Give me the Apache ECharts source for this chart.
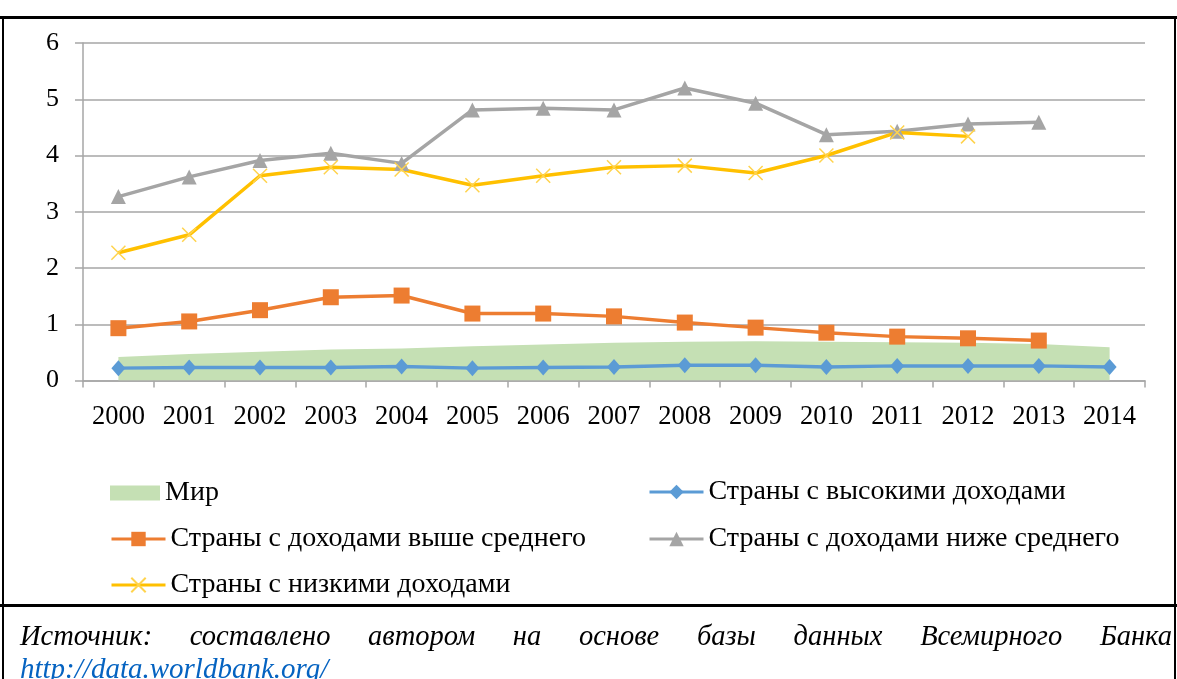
<!DOCTYPE html>
<html>
<head>
<meta charset="utf-8">
<script src="https://cdn.jsdelivr.net/npm/echarts@6/dist/echarts.min.js"></script>
<style>
    body { margin: 0; background: #fff; }
    #wrap { position: relative; width: 1177px; height: 679px; overflow: hidden; }
    #main { position: absolute; left: 0; top: 0; width: 1177px; height: 679px; }
    .frame { position: absolute; background: #000; }
    .src { position: absolute; left: 20px; width: 1152px; font-family: "Liberation Serif", serif; font-style: italic; font-size: 28.5px; line-height: 32px; }
</style>
</head>
<body>
<div id="wrap">
    <div id="main"></div>
    <div class="frame" style="left:0;top:16px;width:1177px;height:3px;"></div>
    <div class="frame" style="left:2px;top:16px;width:2px;height:663px;"></div>
    <div class="frame" style="left:1174px;top:16px;width:2px;height:663px;"></div>
    <div class="frame" style="left:0;top:604px;width:1177px;height:3px;"></div>
    <div class="src" style="top:620px;text-align:justify;text-align-last:justify;">Источник: составлено автором на основе базы данных Всемирного Банка</div>
    <div class="src" style="top:652px;color:#0563C1;font-size:29px;">http://data.worldbank.org/</div>
</div>
<script>
var years = ["2000", "2001", "2002", "2003", "2004", "2005", "2006", "2007",
    "2008", "2009", "2010", "2011", "2012", "2013", "2014"];

var world = [0.42, 0.47, 0.51, 0.55, 0.57, 0.61, 0.64, 0.67, 0.69, 0.70, 0.69, 0.68, 0.67, 0.65, 0.59];
var highIncome = [0.22, 0.23, 0.23, 0.23, 0.25, 0.22, 0.23, 0.24, 0.27, 0.27, 0.24, 0.26, 0.26, 0.26, 0.24];
var upperMiddle = [0.93, 1.05, 1.25, 1.48, 1.51, 1.19, 1.19, 1.14, 1.03, 0.94, 0.85, 0.78, 0.75, 0.71, null];
var lowerMiddle = [3.27, 3.62, 3.91, 4.04, 3.86, 4.81, 4.84, 4.81, 5.20, 4.93, 4.37, 4.43, 4.56, 4.59, null];
var lowIncome = [2.27, 2.59, 3.64, 3.79, 3.75, 3.47, 3.64, 3.79, 3.82, 3.69, 4.00, 4.41, 4.34, null, null];

var names = ["Мир", "Страны с высокими доходами", "Страны с доходами выше среднего",
    "Страны с доходами ниже среднего", "Страны с низкими доходами"];

var chart = echarts.init(document.getElementById("main"));

var font = "Liberation Serif";
var gridColor = "#a6a6a6";

function legendAt(item, left, top, w, h) {
    return {
        data: [item],
        left: left,
        top: top,
        padding: 0,
        itemWidth: w,
        itemHeight: h,
        itemGap: 0,
        selectedMode: false,
        lineStyle: { width: 3 },
        textStyle: { fontFamily: font, fontSize: 28, color: "#000" },
    };
}

var options = {
    animation: false,
    grid: { left: 83, right: 32, top: 43, bottom: 298.5 },
    legend: [
        legendAt({ name: names[0], icon: "rect" }, 110, 479, 50, 15),
        legendAt(names[1], 648, 478, 54, 18),
        legendAt(names[2], 110, 525, 54, 18),
        legendAt(names[3], 648, 525, 54, 18),
        legendAt(names[4], 110, 571, 54, 18),
    ],
    xAxis: {
        type: "category",
        data: years,
        boundaryGap: true,
        axisLine: { lineStyle: { color: gridColor, width: 1.5 } },
        axisTick: { show: true, length: 7, lineStyle: { color: gridColor, width: 1.5 } },
        axisLabel: { margin: 23, fontFamily: font, fontSize: 26.5, color: "#000" },
    },
    yAxis: {
        type: "value",
        min: 0,
        max: 6,
        interval: 1,
        axisLine: { show: true, lineStyle: { color: gridColor, width: 1.5 } },
        axisTick: { show: true, length: 8, lineStyle: { color: gridColor, width: 1.5 } },
        axisLabel: { margin: 24, fontFamily: font, fontSize: 26, color: "#000" },
        splitLine: { lineStyle: { color: gridColor, width: 1.5 } },
    },
    series: [
        {
            name: names[0],
            type: "line",
            data: world,
            symbol: "none",
            itemStyle: { color: "#c5e0b4" },
            lineStyle: { width: 0 },
            areaStyle: { color: "#c5e0b4", opacity: 1 },
        },
        {
            name: names[1],
            type: "line",
            data: highIncome,
            symbol: "diamond",
            symbolSize: [14, 16],
            itemStyle: { color: "#5b9bd5" },
            lineStyle: { color: "#5b9bd5", width: 3.5 },
        },
        {
            name: names[2],
            type: "line",
            data: upperMiddle,
            symbol: "rect",
            symbolSize: 16,
            itemStyle: { color: "#ed7d31" },
            lineStyle: { color: "#ed7d31", width: 3.5 },
        },
        {
            name: names[3],
            type: "line",
            data: lowerMiddle,
            symbol: "triangle",
            symbolSize: 15,
            itemStyle: { color: "#a5a5a5" },
            lineStyle: { color: "#a5a5a5", width: 3.5 },
        },
        {
            name: names[4],
            type: "line",
            data: lowIncome,
            symbol: "path://M0,0L10,10M0,10L10,0",
            symbolSize: 14,
            itemStyle: { color: "#ffc000", borderColor: "#ffd34d", borderWidth: 1.5 },
            lineStyle: { color: "#ffc000", width: 3.5 },
        },
    ],
};

chart.setOption(options);

window.onresize = function () {
    chart.resize();
};
</script>
</body>
</html>
